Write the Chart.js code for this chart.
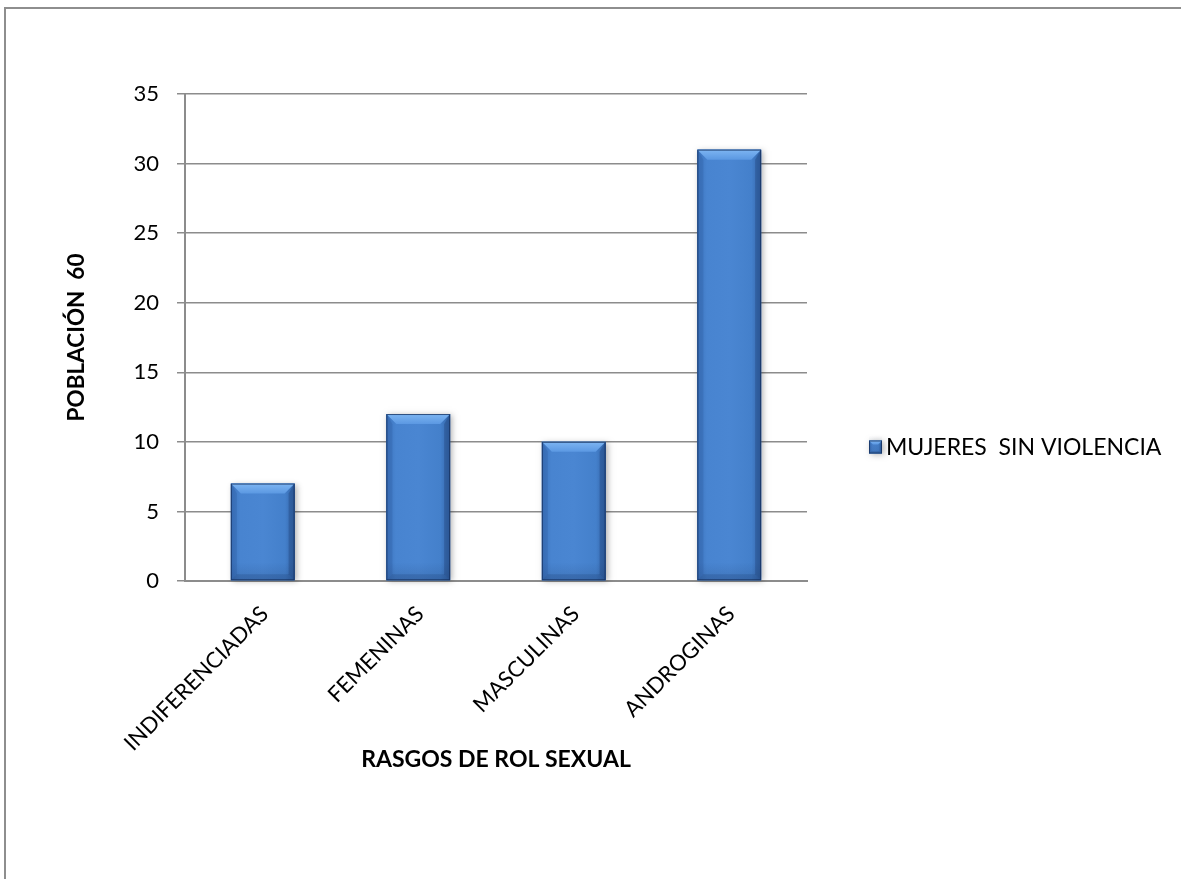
<!DOCTYPE html>
<html><head><meta charset="utf-8">
<script src="https://cdn.jsdelivr.net/npm/chart.js@4"></script>
<style>html,body{margin:0;padding:0;background:#fff}#wrap{width:1181px;height:879px;position:relative}</style>
</head><body><div id="wrap"><canvas id="c" width="1181" height="879"></canvas></div>
<script>
const categories = ['INDIFERENCIADAS', 'FEMENINAS', 'MASCULINAS', 'ANDROGINAS'];
const seriesName = 'MUJERES  SIN VIOLENCIA';
const seriesValues = [7, 12, 10, 31];
const yTickValues = [0, 5, 10, 15, 20, 25, 30, 35];
const xTitle = 'RASGOS DE ROL SEXUAL';
const yTitle = 'POBLACIÓN  60';

const FONT = 'Lato, "Open Sans", sans-serif';
const GRAY = '#8c8c8c';

function drawBevelRect(ctx, l, t, w, h, b) {
  if (h <= 0) return;
  b = Math.min(b, w / 2, h / 2);
  ctx.save();
  ctx.shadowColor = 'rgba(0,0,0,0.3)';
  ctx.shadowBlur = 6; ctx.shadowOffsetX = 2; ctx.shadowOffsetY = 1;
  ctx.fillStyle = '#3f78c0'; ctx.fillRect(l, t, w, h);
  ctx.restore();
  const g = ctx.createLinearGradient(l, 0, l + w, 0);
  g.addColorStop(0, '#3c73bc'); g.addColorStop(0.15, '#4884d0');
  g.addColorStop(0.5, '#4a86d2'); g.addColorStop(0.85, '#4480cb'); g.addColorStop(1, '#3263a6');
  ctx.fillStyle = g; ctx.fillRect(l, t, w, h);
  // bottom darker band
  const gb = ctx.createLinearGradient(0, t + h - 18, 0, t + h);
  gb.addColorStop(0, 'rgba(30,60,110,0)'); gb.addColorStop(1, 'rgba(30,60,110,0.22)');
  ctx.fillStyle = gb; ctx.fillRect(l, t + h - 18, w, 18);
  // top bevel
  ctx.beginPath(); ctx.moveTo(l, t); ctx.lineTo(l + w, t); ctx.lineTo(l + w - b, t + b); ctx.lineTo(l + b, t + b); ctx.closePath();
  const gt = ctx.createLinearGradient(0, t, 0, t + b);
  gt.addColorStop(0, '#7db5f2'); gt.addColorStop(1, '#5b98e2');
  ctx.fillStyle = gt; ctx.fill();
  // left bevel
  ctx.beginPath(); ctx.moveTo(l, t); ctx.lineTo(l + b * 0.6, t + b); ctx.lineTo(l + b * 0.6, t + h - b * 0.6); ctx.lineTo(l, t + h); ctx.closePath();
  ctx.fillStyle = 'rgba(40,85,150,0.25)'; ctx.fill();
  // right bevel
  ctx.beginPath(); ctx.moveTo(l + w, t); ctx.lineTo(l + w - b * 0.6, t + b); ctx.lineTo(l + w - b * 0.6, t + h - b * 0.6); ctx.lineTo(l + w, t + h); ctx.closePath();
  ctx.fillStyle = 'rgba(25,55,105,0.3)'; ctx.fill();
  // bottom bevel
  ctx.beginPath(); ctx.moveTo(l, t + h); ctx.lineTo(l + b * 0.6, t + h - b * 0.6); ctx.lineTo(l + w - b * 0.6, t + h - b * 0.6); ctx.lineTo(l + w, t + h); ctx.closePath();
  ctx.fillStyle = 'rgba(25,55,105,0.2)'; ctx.fill();
  // outline
  ctx.strokeStyle = 'rgba(20,45,90,0.75)'; ctx.lineWidth = 1;
  ctx.strokeRect(l + 0.5, t + 0.5, w - 1, h - 1);
}

const bevelPlugin = {
  id: 'bevel',
  afterDatasetsDraw(chart) {
    const ctx = chart.ctx;
    chart.getDatasetMeta(0).data.forEach(bar => {
      const p = bar.getProps(['x', 'y', 'base', 'width'], true);
      drawBevelRect(ctx, p.x - p.width / 2, p.y, p.width, p.base - p.y, 10);
    });
  }
};

const frameLegendPlugin = {
  id: 'frameLegend',
  afterDraw(chart) {
    const ctx = chart.ctx;
    ctx.save();
    // outer frame
    ctx.strokeStyle = '#8e8e8e'; ctx.lineWidth = 2;
    ctx.beginPath(); ctx.moveTo(5, 879); ctx.lineTo(5, 8); ctx.lineTo(1181, 8); ctx.stroke();
    // legend, vertically centred in the chart box
    const area = chart.chartArea;
    const lx = area.right + 62, ly = chart.height / 2 + 8;
    drawBevelRect(ctx, lx, ly - 7, 13, 13, 4);
    ctx.fillStyle = '#000'; ctx.font = '23px ' + FONT;
    ctx.textBaseline = 'middle'; ctx.textAlign = 'left';
    ctx.fillText(chart.data.datasets[0].label, lx + 17, ly);
    ctx.restore();
  }
};

new Chart(document.getElementById('c'), {
  type: 'bar',
  data: {
    labels: categories,
    datasets: [{ label: seriesName, data: seriesValues, backgroundColor: '#4a86d2',
      categoryPercentage: 1, barPercentage: 0.41 }]
  },
  options: {
    responsive: false, animation: false, devicePixelRatio: 1,
    layout: { padding: { top: 94, right: 374, bottom: 0, left: 0 } },
    plugins: { legend: { display: false }, tooltip: { enabled: false } },
    scales: {
      x: {
        grid: { display: false },
        border: { display: true, color: GRAY, width: 2 },
        ticks: { color: '#000', font: { family: FONT, size: 22 }, minRotation: 45, maxRotation: 45, padding: 12, labelOffset: 2 },
        title: { display: true, text: xTitle, color: '#000', font: { family: FONT, size: 23, weight: 'bold' }, padding: 106 },
        afterFit(s) { s.height = 298; }
      },
      y: {
        min: 0, max: 35,
        afterBuildTicks(s) { s.ticks = yTickValues.map(v => ({ value: v })); },
        grid: { color: GRAY, lineWidth: 1.5, tickLength: 8 },
        border: { display: true, color: GRAY, width: 2 },
        ticks: { color: '#000', font: { family: FONT, size: 22 }, padding: 18 },
        title: { display: true, text: yTitle, color: '#000', font: { family: FONT, size: 22.5, weight: 'bold' }, padding: 63 },
        afterFit(s) { s.width = 185; }
      }
    }
  },
  plugins: [bevelPlugin, frameLegendPlugin]
});
</script>
</body></html>
